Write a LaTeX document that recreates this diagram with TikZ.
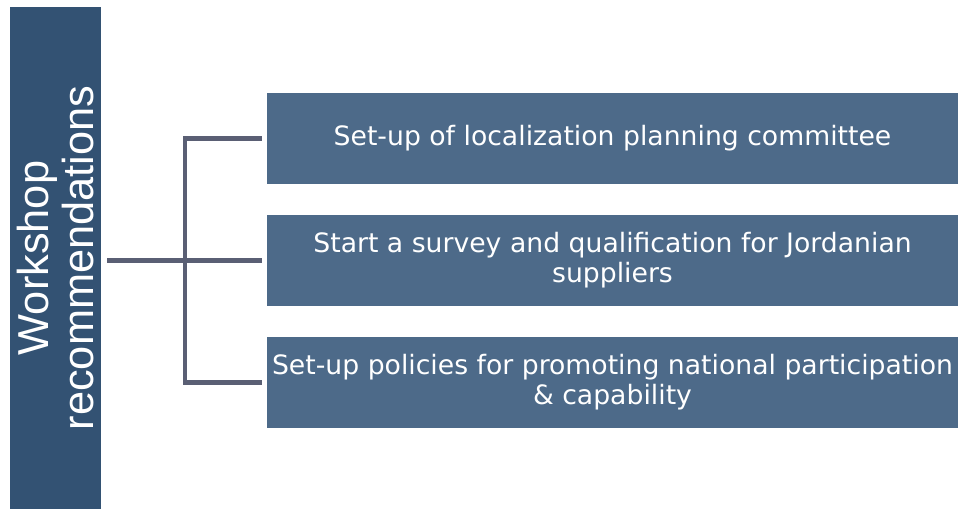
\documentclass[tikz,border=0pt]{standalone}
\usepackage{fontspec}
\setmainfont{DejaVu Sans}
\newfontfamily\arialfont{Liberation Sans}
\usetikzlibrary{positioning}
\definecolor{barblue}{HTML}{335273}
\definecolor{boxblue}{HTML}{4D6A89}
\definecolor{linegray}{HTML}{5A5F74}

\begin{document}
\begin{tikzpicture}[x=0.75pt, y=-0.75pt,
    recbox/.style={fill=boxblue, text=white, minimum width=518.25pt, minimum height=68.25pt, align=center, inner sep=0pt, font=\fontsize{20}{22.5}\selectfont},
    conn/.style={draw=linegray, line width=3.4pt}]
    \useasboundingbox (0,0) rectangle (958,510);

    % Left title bar
    \node[fill=barblue, text=white, rotate=90, minimum width=376.5pt, minimum height=68.25pt, inner sep=0pt, align=center, font=\arialfont\fontsize{32.5}{33.5}\selectfont] (bar) at (55.5,258) {Workshop\\recommendations};

    % Recommendation boxes - top to bottom
    \node[recbox] (committee) at (612.5,138.5) {Set-up of localization planning committee};

    \node[recbox] (survey) at (612.5,260.5) {Start a survey and qualification for Jordanian\\suppliers};

    \node[recbox] (policies) at (612.5,382.5) {Set-up policies for promoting national participation\\\& capability};

    % Connectors
    \coordinate (stub) at (107,260.5);
    \coordinate (spine) at (185,260.5);
    \draw[conn] ([xshift=-3.75pt]committee.west) -| (spine) |- ([xshift=-3.75pt]policies.west);
    \draw[conn] (stub) -- ([xshift=-3.75pt]survey.west);
\end{tikzpicture}
\end{document}
